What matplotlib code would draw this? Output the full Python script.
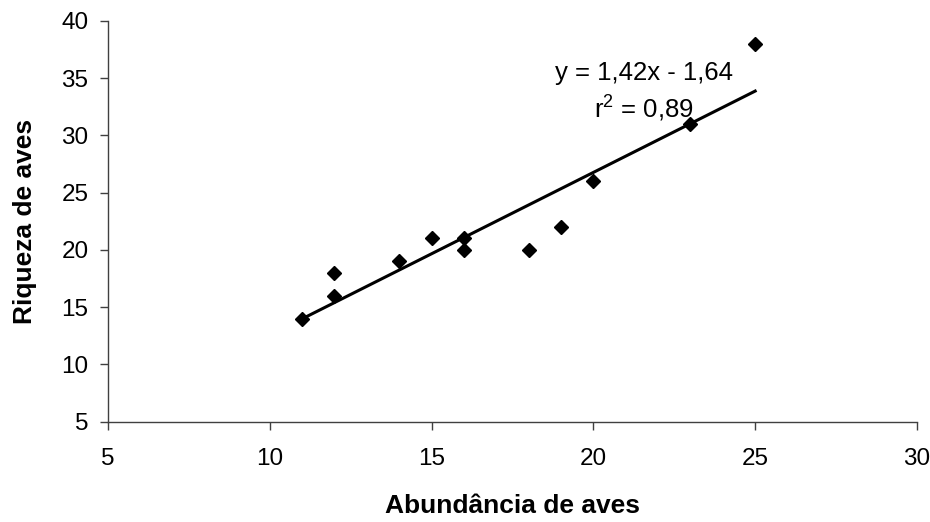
import matplotlib
matplotlib.use('Agg')
import matplotlib.pyplot as plt
import numpy as np

plt.rcParams['font.family'] = ['Liberation Sans', 'DejaVu Sans']

abundancia = [11, 12, 12, 14, 15, 16, 16, 18, 19, 20, 23, 25]
riqueza = [14, 16, 18, 19, 21, 21, 20, 20, 22, 26, 31, 38]

# linha de tendencia do grafico original
slope = 1.42
intercept = -1.64

fig = plt.figure(figsize=(9.3, 5.22), dpi=100)
ax = fig.add_axes([0.1161, 0.1921, 0.8699, 0.7682])

xfit = np.array([min(abundancia), max(abundancia)])
ax.plot(xfit, slope * xfit + intercept, color='black', lw=2.2, zorder=2)
ax.plot(abundancia, riqueza, 'D', color='black', ms=7.5, zorder=3)

ax.text(21.55, 33.75, 'y = 1,42x - 1,64\n$\\mathregular{r^2}$ = 0,89', ha='center', va='center',
        fontsize=18.5, linespacing=1.35)

ax.set_xlim(5, 30)
ax.set_ylim(5, 40)
ax.set_xticks(range(5, 31, 5))
ax.set_yticks(range(5, 41, 5))

for s in ['top', 'right']:
    ax.spines[s].set_visible(False)
for s in ['left', 'bottom']:
    ax.spines[s].set_color('#404040')
    ax.spines[s].set_linewidth(1)

ax.tick_params(axis='both', direction='out', length=6, width=1, color='#404040', labelsize=17.5)
ax.tick_params(axis='x', pad=13)
ax.tick_params(axis='y', pad=8)

ax.set_xlabel('Abundância de aves', fontsize=19, fontweight='bold')
ax.set_ylabel('Riqueza de aves', fontsize=19, fontweight='bold')
ax.xaxis.set_label_coords(0.5, -0.18)
ax.yaxis.set_label_coords(-0.088, 0.5)

fig.savefig('out.png', dpi=100)
